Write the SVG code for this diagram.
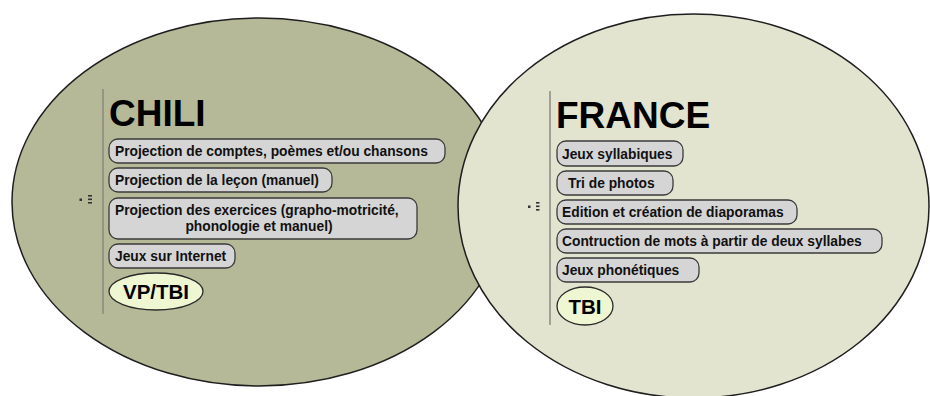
<svg xmlns="http://www.w3.org/2000/svg" width="930" height="396" viewBox="0 0 930 396">
<style>
.circ{stroke:#1e1e1e;stroke-width:1.5}
.box{fill:#d5d5d5;stroke:#3a3a3a;stroke-width:1.3}
.oval{fill:#eef7d2;stroke:#2a2a2a;stroke-width:1.3}
.t{font-family:"Liberation Sans",Arial,sans-serif;font-weight:bold;font-size:13.8px;fill:#111}
.title{font-family:"Liberation Sans",Arial,sans-serif;font-weight:bold;font-size:37px;fill:#000}
.ot{font-family:"Liberation Sans",Arial,sans-serif;font-weight:bold;font-size:20.5px;fill:#000;text-anchor:middle}
.sep{stroke:#8a8a80;stroke-width:1.5}
.ic{fill:#333}
</style>
<rect width="930" height="396" fill="#ffffff"/>
<g id="chili-circle"><ellipse class="circ" cx="259" cy="202" rx="247" ry="184" fill="#b5b998"/></g>
<g id="france-circle"><ellipse class="circ" cx="693.5" cy="206" rx="235.5" ry="192" fill="#e3e4cf"/></g>

<g id="chili">
<line class="sep" x1="103" y1="89" x2="103" y2="314"/>
<g class="ic"><rect x="79.5" y="198.5" width="2.5" height="2.5"/><rect x="88" y="195" width="4" height="1.6"/><rect x="88" y="198.5" width="4" height="1.6"/><rect x="88" y="202" width="4" height="1.6"/></g>
<text class="title" x="109" y="126">CHILI</text>
</g>
<g id="chili-1"><rect class="box" x="109" y="139" width="336" height="24" rx="9"/><text class="t" x="115" y="156">Projection de comptes, poèmes et/ou chansons</text></g>
<g id="chili-2"><rect class="box" x="109" y="168" width="223" height="24" rx="9"/><text class="t" x="115" y="185">Projection de la leçon (manuel)</text></g>
<g id="chili-3"><rect class="box" x="109" y="198" width="308" height="41" rx="9"/><text class="t" x="115" y="215">Projection des exercices (grapho-motricité,</text><text class="t" x="259" y="231" text-anchor="middle">phonologie et manuel)</text></g>
<g id="chili-4"><rect class="box" x="109" y="244" width="126" height="24" rx="9"/><text class="t" x="115" y="261">Jeux sur Internet</text></g>
<g id="chili-vp"><ellipse class="oval" cx="156" cy="291.5" rx="47" ry="18.5"/><text class="ot" x="156" y="299">VP/TBI</text></g>

<g id="france">
<line class="sep" x1="550" y1="91" x2="550" y2="325"/>
<g class="ic"><rect x="528" y="205.5" width="2.5" height="2.5"/><rect x="536" y="202" width="3.5" height="1.6"/><rect x="536" y="205.5" width="3.5" height="1.6"/><rect x="536" y="209" width="3.5" height="1.6"/></g>
<text class="title" x="556" y="128">FRANCE</text>
</g>
<g id="france-1"><rect class="box" x="557" y="141" width="126" height="25" rx="9"/><text class="t" x="562" y="158.5">Jeux syllabiques</text></g>
<g id="france-2"><rect class="box" x="557" y="171" width="116" height="24" rx="9"/><text class="t" x="568" y="188">Tri de photos</text></g>
<g id="france-3"><rect class="box" x="557" y="200" width="240" height="24" rx="9"/><text class="t" x="562" y="217">Edition et création de diaporamas</text></g>
<g id="france-4"><rect class="box" x="557" y="229" width="325" height="24" rx="9"/><text class="t" x="562" y="246">Contruction de mots à partir de deux syllabes</text></g>
<g id="france-5"><rect class="box" x="557" y="258" width="142" height="24" rx="9"/><text class="t" x="562" y="275">Jeux phonétiques</text></g>
<g id="france-tbi"><ellipse class="oval" cx="585" cy="306" rx="28" ry="19"/><text class="ot" x="585" y="313.5">TBI</text></g>
</svg>
